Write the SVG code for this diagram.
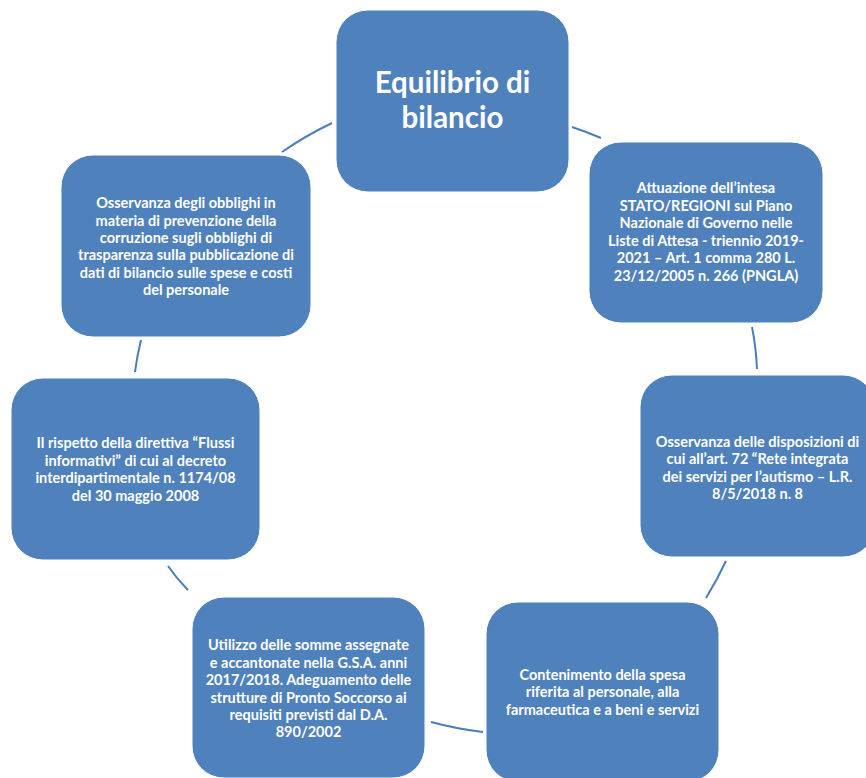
<svg xmlns="http://www.w3.org/2000/svg" width="866" height="778" viewBox="0 0 866 778">
<style>
.node{fill:#4F81BD;stroke:#ffffff;stroke-width:1}
.t{font-family:Lato,"Liberation Sans",sans-serif;font-weight:bold;fill:#ffffff;text-anchor:middle;font-size:14.5px}
.title{font-size:29.5px}
.conn{fill:none;stroke:#4A7EBB;stroke-width:2}
</style>
<rect width="866" height="778" fill="#ffffff"/>
<g id="connectors">
<path class="conn" d="M282,152 Q305,136 332,123"/>
<path class="conn" d="M572,127 Q587,132 601,138"/>
<path class="conn" d="M752,327 Q756,347 757,369"/>
<path class="conn" d="M726,561 Q717,580 706,598"/>
<path class="conn" d="M483,732 Q457,729 431,722"/>
<path class="conn" d="M188,590 Q177,579 168,566"/>
<path class="conn" d="M135,372 Q137,356 141,340"/>
</g>
<g id="node1">
<rect class="node" x="336" y="10" width="233" height="182" rx="32"/>
<text class="t title" x="452.5" y="93">Equilibrio di</text>
<text class="t title" x="452.5" y="128">bilancio</text>
</g>
<g id="node2">
<rect class="node" x="589" y="142" width="234" height="181" rx="32"/>
<text class="t" x="706"><tspan x="706" y="193">Attuazione dell’intesa</tspan><tspan x="706" y="210.5">STATO/REGIONI sul Piano</tspan><tspan x="706" y="228">Nazionale di Governo nelle</tspan><tspan x="706" y="245.5">Liste di Attesa - triennio 2019-</tspan><tspan x="706" y="263">2021 – Art. 1 comma 280 L.</tspan><tspan x="706" y="280.5">23/12/2005  n. 266 (PNGLA)</tspan></text>
</g>
<g id="node3">
<rect class="node" x="61" y="155" width="250" height="182" rx="32"/>
<text class="t" x="186"><tspan x="186" y="208">Osservanza degli obblighi in</tspan><tspan x="186" y="225.5">materia di prevenzione della</tspan><tspan x="186" y="243">corruzione sugli obblighi di</tspan><tspan x="186" y="260">trasparenza sulla pubblicazione di</tspan><tspan x="186" y="277.5">dati di bilancio sulle spese e costi</tspan><tspan x="186" y="295">del personale</tspan></text>
</g>
<g id="node4">
<rect class="node" x="11" y="378" width="249" height="182" rx="32"/>
<text class="t" x="135.5"><tspan x="135.5" y="448">Il rispetto della direttiva “Flussi</tspan><tspan x="135.5" y="465.5">informativi” di cui al decreto</tspan><tspan x="135.5" y="483">interdipartimentale n. 1174/08</tspan><tspan x="135.5" y="500.5">del 30 maggio 2008</tspan></text>
</g>
<g id="node5">
<rect class="node" x="640" y="375" width="235" height="182" rx="32"/>
<text class="t" x="757.5"><tspan x="757.5" y="447">Osservanza delle disposizioni di</tspan><tspan x="757.5" y="464">cui all’art. 72 “Rete integrata</tspan><tspan x="757.5" y="481.5">dei servizi per l’autismo – L.R.</tspan><tspan x="757.5" y="499">8/5/2018 n. 8</tspan></text>
</g>
<g id="node6">
<rect class="node" x="192" y="597" width="233" height="181" rx="32"/>
<text class="t" x="308.5"><tspan x="308.5" y="650">Utilizzo delle somme assegnate</tspan><tspan x="308.5" y="667.5">e accantonate nella G.S.A. anni</tspan><tspan x="308.5" y="685">2017/2018.  Adeguamento delle</tspan><tspan x="308.5" y="702.5">strutture di Pronto Soccorso ai</tspan><tspan x="308.5" y="720">requisiti previsti dal D.A.</tspan><tspan x="308.5" y="737">890/2002</tspan></text>
</g>
<g id="node7">
<rect class="node" x="486" y="602" width="233" height="180" rx="32"/>
<text class="t" x="602.5"><tspan x="602.5" y="680">Contenimento della spesa</tspan><tspan x="602.5" y="697">riferita al personale, alla</tspan><tspan x="602.5" y="714.5">farmaceutica e a beni e servizi</tspan></text>
</g>
</svg>
